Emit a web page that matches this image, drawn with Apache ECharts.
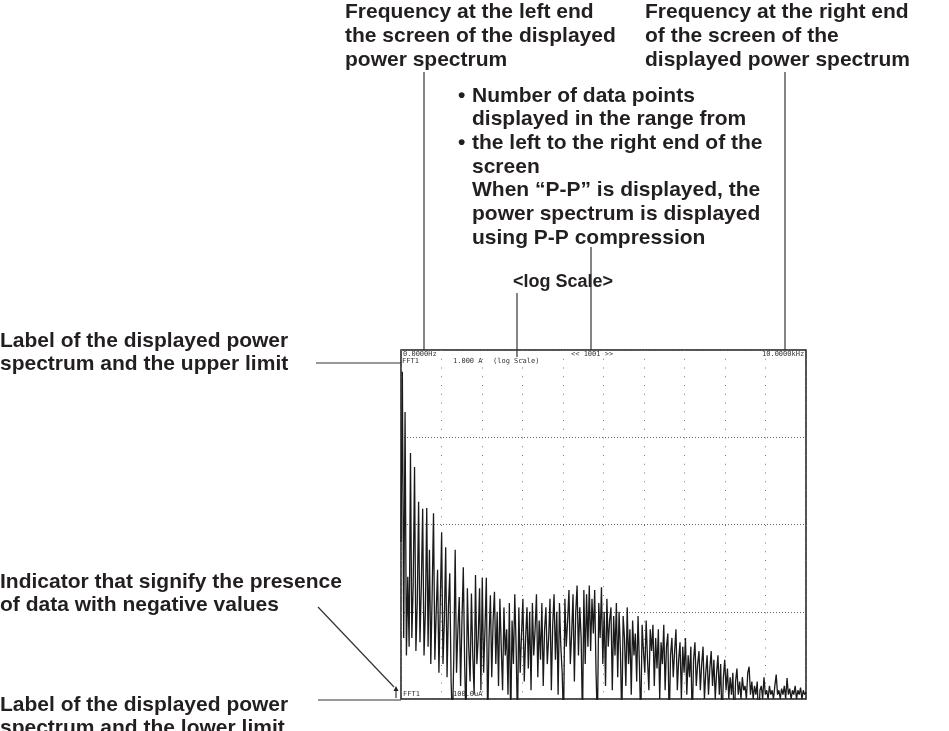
<!DOCTYPE html>
<html>
<head>
<meta charset="utf-8">
<title>FFT power spectrum - log scale</title>
<script src="https://cdn.jsdelivr.net/npm/echarts@6/dist/echarts.min.js"></script>
<style>
  html, body { margin: 0; padding: 0; background: #fff; }
  #chart { width: 949px; height: 731px; }
</style>
</head>
<body>
<div id="chart"></div>
<script>
// spectrum: log10 of the amplitude in A,
// 300 evenly spaced samples from the left end (0 Hz) to the right end (10 kHz)
const levelLog10 = [
  -2.2, -0.25, -3.3, -0.71, -3.5, -2.6, -3.4, -1.18, -3.3, -2.7,
  -1.34, -3.45, -2.9, -1.74, -3.35, -2.7, -1.82, -3.5, -3.0, -1.81,
  -3.4, -2.29, -3.6, -2.8, -1.87, -3.55, -3.0, -2.52, -3.7, -2.9,
  -2.09, -3.6, -3.1, -2.26, -3.75, -2.95, -2.56, -3.8, -4.3, -3.5,
  -2.29, -3.7, -3.2, -2.83, -3.85, -3.1, -2.49, -3.6, -4.3, -2.73,
  -3.4, -3.8, -2.79, -3.5, -3.95, -2.58, -3.6, -3.3, -2.73, -3.9,
  -2.61, -3.7, -3.2, -2.61, -4.3, -3.3, -2.81, -3.75, -3.1, -2.77,
  -3.6, -3.0, -3.85, -2.85, -3.4, -3.9, -2.95, -3.5, -3.2, -3.95,
  -2.9, -4.3, -3.1, -3.6, -2.8, -3.4, -4.3, -2.95, -3.7, -3.25,
  -2.85, -3.8, -3.3, -2.95, -3.65, -3.0, -3.9, -2.9, -3.5, -3.2,
  -2.8, -3.75, -3.1, -3.55, -2.9, -3.85, -3.2, -2.95, -3.6, -3.3,
  -2.85, -3.9, -3.15, -2.8, -3.55, -3.0, -3.95, -2.9, -3.4, -3.7,
  -4.3, -2.85, -3.4, -3.1, -2.75, -3.6, -3.25, -2.8, -3.8, -3.0,
  -2.7, -3.5, -2.95, -3.3, -4.3, -2.75, -3.6, -2.8, -3.4, -2.7,
  -3.45, -2.85, -3.25, -2.75, -3.7, -4.3, -2.9, -3.3, -2.72, -3.6,
  -3.0, -3.85, -2.85, -3.4, -3.1, -2.95, -3.9, -3.05, -3.5, -2.9,
  -3.75, -3.0, -3.45, -4.3, -3.05, -3.3, -3.85, -2.95, -3.6, -3.2,
  -3.95, -3.1, -3.5, -3.25, -3.8, -3.05, -3.6, -4.3, -3.15, -3.45,
  -3.7, -3.1, -3.55, -3.9, -3.2, -3.45, -3.15, -3.85, -3.3, -3.65,
  -3.2, -4.0, -3.35, -3.6, -3.15, -3.9, -3.4, -3.25, -4.3, -3.5,
  -3.3, -3.75, -3.45, -3.2, -3.9, -3.55, -3.35, -4.0, -3.4, -3.7,
  -3.3, -3.95, -3.5, -3.75, -3.4, -4.3, -3.55, -3.35, -3.85, -3.6,
  -3.45, -3.9, -3.6, -3.4, -4.0, -3.7, -3.5, -3.95, -3.65, -3.45,
  -3.85, -3.55, -4.0, -3.7, -3.5, -3.95, -3.6, -4.3, -3.75, -3.55,
  -3.9, -3.65, -4.0, -3.75, -3.95, -3.7, -4.3, -3.8, -3.65, -3.95,
  -3.8, -4.0, -3.75, -3.9, -3.85, -4.0, -3.7, -3.63, -3.95, -3.8,
  -4.0, -3.85, -3.95, -3.8, -4.3, -3.9, -3.85, -4.0, -3.75, -3.95,
  -3.9, -4.0, -3.85, -3.95, -3.9, -4.0, -3.85, -3.72, -3.95, -3.9,
  -4.0, -3.88, -3.95, -3.85, -4.0, -3.76, -3.95, -3.88, -4.0, -3.9,
  -3.95, -3.85, -4.0, -3.9, -3.95, -3.87, -4.0, -3.9, -3.95, -3.92
];

// screen range
const spanHz = [0, 10000];
const spanA = [1e-4, 1];

// texts shown on the screen
const screenTop = ['0.0000Hz', '<< 1001 >>', '10.0000kHz'];
const screenUpper = ['FFT1', '1.000 A', '(log Scale)'];
const screenLower = ['FFT1', '100.0uA'];

// callout texts around the screen
const noteLeftEnd = 'Frequency at the left end\nthe screen of the displayed\npower spectrum';
const noteRightEnd = 'Frequency at the right end\nof the screen of the\ndisplayed power spectrum';
const notePoints = 'Number of data points\ndisplayed in the range from\nthe left to the right end of the\nscreen\nWhen \u201cP-P\u201d is displayed, the\npower spectrum is displayed\nusing P-P compression';
const noteLog = '<log Scale>';
const noteUpper = 'Label of the displayed power\nspectrum and the upper limit';
const noteNegative = 'Indicator that signify the presence\nof data with negative values';
const noteLower = 'Label of the displayed power\nspectrum and the lower limit';

const chart = echarts.init(document.getElementById('chart'));

const n = levelLog10.length;
const points = levelLog10.map((v, i) => [
  spanHz[0] + (spanHz[1] - spanHz[0]) * i / (n - 1),
  Math.pow(10, v)
]);

const boldFont = 'bold 21px "Liberation Sans", Arial, sans-serif';
const logFont = 'bold 18px "Liberation Sans", Arial, sans-serif';
const monoFont = '7px "DejaVu Sans Mono", monospace';
const ink = '#231f20';

function note(x, y, text, lh, font) {
  return {
    type: 'text', x: x, y: y, z: 10,
    style: { text: text, font: font || boldFont, fill: ink, lineHeight: lh || 24, verticalAlign: 'top' }
  };
}
function small(x, y, text) {
  return {
    type: 'text', x: x, y: y, z: 10,
    style: { text: text, font: monoFont, fill: '#333', verticalAlign: 'top' }
  };
}
function lead(x1, y1, x2, y2) {
  return {
    type: 'line', z: 10,
    shape: { x1: x1, y1: y1, x2: x2, y2: y2 },
    style: { stroke: '#333', lineWidth: 1.2 }
  };
}

chart.setOption({
  animation: false,
  backgroundColor: '#fff',
  grid: {
    left: 401, top: 350, width: 405, height: 349,
    show: true, borderColor: '#1a1a1a', borderWidth: 1.5
  },
  xAxis: {
    type: 'value', min: spanHz[0], max: spanHz[1], interval: 1000,
    axisLine: { show: false }, axisTick: { show: false }, axisLabel: { show: false },
    splitLine: { show: true, lineStyle: { color: '#777', width: 1, type: [1, 7.75] } }
  },
  yAxis: {
    type: 'log', logBase: 10, min: spanA[0], max: spanA[1],
    axisLine: { show: false }, axisTick: { show: false }, axisLabel: { show: false },
    splitLine: { show: true, lineStyle: { color: '#666', width: 1, type: [1, 2] } }
  },
  series: [{
    type: 'line',
    data: points,
    symbol: 'none',
    clip: true,
    lineStyle: { color: '#1a1a1a', width: 1.3 }
  }],
  graphic: [
    // screen texts
    small(403, 351, screenTop[0]),
    small(571, 351, screenTop[1]),
    small(762, 351, screenTop[2]),
    small(402, 358, screenUpper[0]),
    small(453, 358, screenUpper[1]),
    small(493, 358, screenUpper[2]),
    small(403, 691, screenLower[0]),
    small(453, 691, screenLower[1]),

    // callouts
    note(345, 0, noteLeftEnd),
    note(645, 0, noteRightEnd),
    note(458, 84, '\u2022', 23.7),
    note(458, 131.4, '\u2022', 23.7),
    note(472, 84, notePoints, 23.7),
    note(513, 270, noteLog, 24, logFont),
    note(0, 329, noteUpper, 23.5),
    note(0, 570, noteNegative, 23.5),
    note(0, 693, noteLower, 23.5),

    // leader lines
    lead(424, 72, 424, 350),
    lead(785, 72, 785, 350),
    lead(591, 247, 591, 350),
    lead(517, 293, 517, 357),
    lead(316, 363, 401, 363),
    lead(318, 607, 394, 687),
    lead(318, 700, 401, 700),

    // negative-value indicator
    lead(396, 698, 396, 690),
    {
      type: 'polygon', z: 10,
      shape: { points: [[393.5, 691], [398.5, 691], [396, 686]] },
      style: { fill: '#222' }
    }
  ]
});
</script>
</body>
</html>
